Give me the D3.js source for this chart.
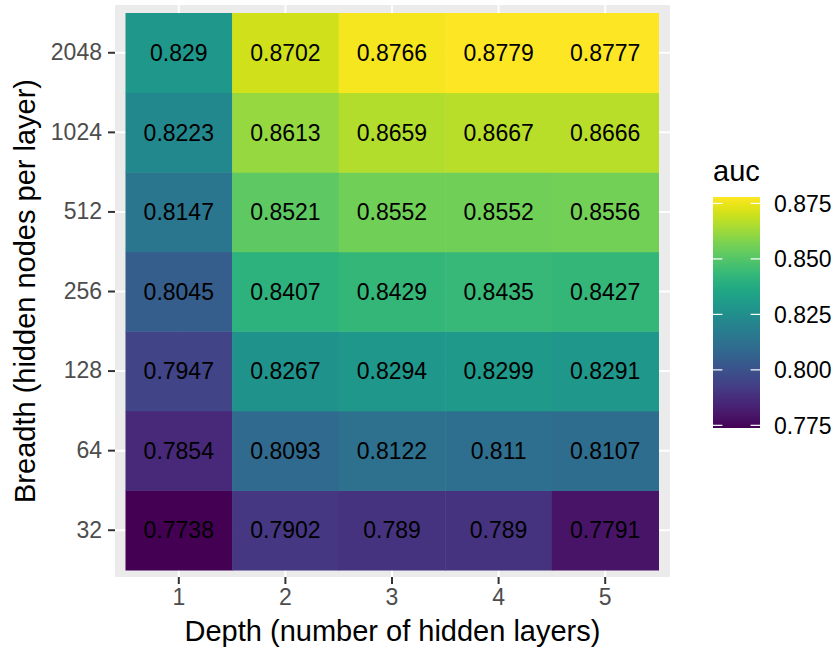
<!DOCTYPE html>
<html>
<head>
<meta charset="utf-8">
<script src="https://cdn.jsdelivr.net/npm/d3@7"></script>
<style>
  html, body { margin: 0; padding: 0; background: #ffffff; }
  svg { display: block; font-family: "Liberation Sans", Arial, Helvetica, sans-serif; }
</style>
</head>
<body>
<svg id="chart" width="835" height="649"></svg>
<script>
// Depth (hidden layers) along x, breadth (nodes per layer) along y
const depths = [1, 2, 3, 4, 5];
const breadths = ["32", "64", "128", "256", "512", "1024", "2048"];

// AUC per breadth row, one value per depth
const auc32   = [0.7738, 0.7902, 0.789,  0.789,  0.7791];
const auc64   = [0.7854, 0.8093, 0.8122, 0.811,  0.8107];
const auc128  = [0.7947, 0.8267, 0.8294, 0.8299, 0.8291];
const auc256  = [0.8045, 0.8407, 0.8429, 0.8435, 0.8427];
const auc512  = [0.8147, 0.8521, 0.8552, 0.8552, 0.8556];
const auc1024 = [0.8223, 0.8613, 0.8659, 0.8667, 0.8666];
const auc2048 = [0.829,  0.8702, 0.8766, 0.8779, 0.8777];

const legendTicks = [0.775, 0.800, 0.825, 0.850, 0.875];

const rows = [auc32, auc64, auc128, auc256, auc512, auc1024, auc2048];
const cells = [];
breadths.forEach((b, i) => {
  depths.forEach((d, j) => cells.push({ depth: d, breadth: b, auc: rows[i][j] }));
});

const svg = d3.select("#chart");

// Tile area and the panel that extends slightly beyond it
const tileLeft = 125.5, tileRight = 658.5, tileTop = 13, tileBottom = 570;
const panel = { x0: 115, x1: 670, y0: 5, y1: 577 };

const x = d3.scaleBand().domain(depths).range([tileLeft, tileRight]);
const y = d3.scaleBand().domain(breadths).range([tileBottom, tileTop]);

const extent = d3.extent(cells, c => c.auc);
const t = d3.scaleLinear().domain(extent).range([0, 1]);
const fill = v => d3.interpolateViridis(t(v));

// Panel background
svg.append("rect")
  .attr("x", panel.x0).attr("y", panel.y0)
  .attr("width", panel.x1 - panel.x0).attr("height", panel.y1 - panel.y0)
  .attr("fill", "#EBEBEB");

// Major grid lines
const grid = svg.append("g").attr("stroke", "#ffffff").attr("stroke-width", 2);
depths.forEach(d => {
  const cx = x(d) + x.bandwidth() / 2;
  grid.append("line").attr("x1", cx).attr("x2", cx).attr("y1", panel.y0).attr("y2", panel.y1);
});
breadths.forEach(b => {
  const cy = y(b) + y.bandwidth() / 2;
  grid.append("line").attr("x1", panel.x0).attr("x2", panel.x1).attr("y1", cy).attr("y2", cy);
});

// Tiles
svg.append("g").selectAll("rect")
  .data(cells).join("rect")
  .attr("x", c => x(c.depth))
  .attr("y", c => y(c.breadth))
  .attr("width", x.bandwidth() + 0.5)
  .attr("height", y.bandwidth() + 0.5)
  .attr("fill", c => fill(c.auc));

// Value labels
svg.append("g").selectAll("text")
  .data(cells).join("text")
  .attr("x", c => x(c.depth) + x.bandwidth() / 2)
  .attr("y", c => y(c.breadth) + y.bandwidth() / 2)
  .attr("dy", "0.36em")
  .attr("text-anchor", "middle")
  .attr("font-size", 23)
  .attr("fill", "#000000")
  .text(c => String(c.auc));

// Axes
function styleAxis(g) {
  g.select(".domain").remove();
  g.selectAll(".tick line").attr("stroke", "#333333").attr("stroke-width", 2);
  g.selectAll(".tick text").attr("fill", "#4D4D4D").attr("font-size", 23)
    .attr("font-family", "Liberation Sans, Arial, sans-serif");
}

svg.append("g")
  .attr("transform", `translate(0,${panel.y1})`)
  .call(d3.axisBottom(x).tickSize(7).tickPadding(5))
  .call(styleAxis);

svg.append("g")
  .attr("transform", `translate(${panel.x0},0)`)
  .call(d3.axisLeft(y).tickSize(7).tickPadding(6))
  .call(styleAxis);

// Axis titles
svg.append("text")
  .attr("x", (panel.x0 + panel.x1) / 2)
  .attr("y", 641)
  .attr("text-anchor", "middle")
  .attr("font-size", 29)
  .attr("fill", "#000000")
  .text("Depth (number of hidden layers)");

svg.append("text")
  .attr("transform", `translate(35,${(panel.y0 + panel.y1) / 2}) rotate(-90)`)
  .attr("text-anchor", "middle")
  .attr("font-size", 29)
  .attr("fill", "#000000")
  .text("Breadth (hidden nodes per layer)");

// Colour bar legend
const bar = { x: 713, y0: 197, y1: 428, w: 47 };
const ly = d3.scaleLinear().domain(extent).range([bar.y1, bar.y0]);

const defs = svg.append("defs");
const grad = defs.append("linearGradient")
  .attr("id", "aucGrad").attr("x1", 0).attr("y1", 1).attr("x2", 0).attr("y2", 0);
d3.range(0, 1.0001, 0.02).forEach(s => {
  grad.append("stop").attr("offset", s).attr("stop-color", d3.interpolateViridis(s));
});

svg.append("text")
  .attr("x", bar.x).attr("y", 181)
  .attr("font-size", 29)
  .attr("fill", "#000000")
  .text("auc");

svg.append("rect")
  .attr("x", bar.x).attr("y", bar.y0)
  .attr("width", bar.w).attr("height", bar.y1 - bar.y0)
  .attr("fill", "url(#aucGrad)");

const lt = svg.append("g");
legendTicks.forEach(v => {
  const py = ly(v);
  lt.append("line").attr("x1", bar.x).attr("x2", bar.x + 9.4)
    .attr("y1", py).attr("y2", py).attr("stroke", "#ffffff").attr("stroke-width", 1.2);
  lt.append("line").attr("x1", bar.x + bar.w - 9.4).attr("x2", bar.x + bar.w)
    .attr("y1", py).attr("y2", py).attr("stroke", "#ffffff").attr("stroke-width", 1.2);
  lt.append("text")
    .attr("x", 774).attr("y", py).attr("dy", "0.36em")
    .attr("font-size", 23).attr("fill", "#000000")
    .text(d3.format(".3f")(v));
});
</script>
</body>
</html>
